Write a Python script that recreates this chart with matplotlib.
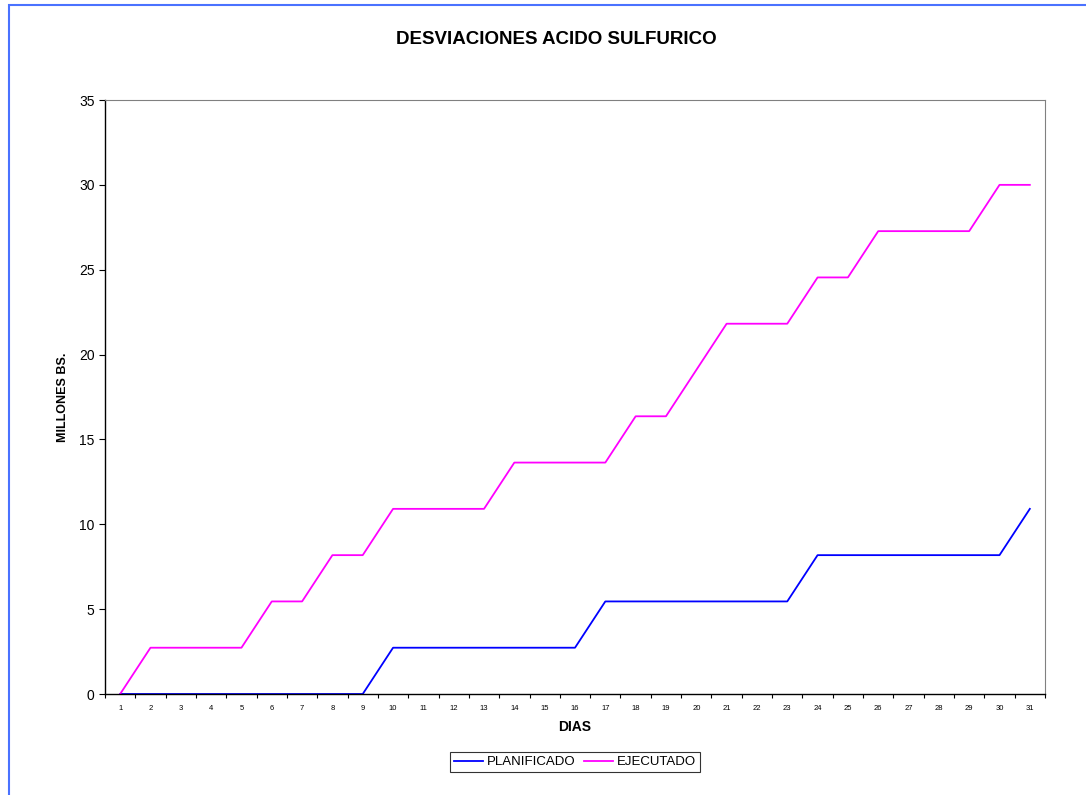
import matplotlib.pyplot as plt
from matplotlib.patches import Rectangle
import numpy as np

plt.rcParams['font.family'] = ['Liberation Sans', 'DejaVu Sans']

dias = list(range(1, 32))
step = 30 / 11
planificado = [0, 0, 0, 0, 0, 0, 0, 0, 0,
               1, 1, 1, 1, 1, 1, 1,
               2, 2, 2, 2, 2, 2, 2,
               3, 3, 3, 3, 3, 3, 3,
               4]
ejecutado = [0, 1, 1, 1, 1, 2, 2, 3, 3,
             4, 4, 4, 4, 5, 5, 5, 5,
             6, 6, 7, 8, 8, 8, 9, 9,
             10, 10, 10, 10, 11, 11]
planificado = np.array(planificado) * step
ejecutado = np.array(ejecutado) * step

fig = plt.figure(figsize=(10.86, 7.95), dpi=100)
W, H = 1086, 795
ax = fig.add_axes([105 / W, 1 - 694 / H, 940 / W, 594 / H])

ax.plot(dias, planificado, color='#0000ff', lw=1.3, label='PLANIFICADO')
ax.plot(dias, ejecutado, color='#ff00ff', lw=1.3, label='EJECUTADO')

ax.set_xlim(0.5, 31.5)
ax.set_ylim(0, 35)
ax.set_yticks(range(0, 36, 5))
ax.set_xticks(dias)
ax.set_xticklabels([str(d) for d in dias], fontsize=5.5)
ax.set_xticks(np.arange(0.5, 32, 1), minor=True)
ax.tick_params(axis='x', which='major', length=0, pad=8)
ax.tick_params(axis='x', which='minor', length=3, direction='out', width=0.8)
ax.tick_params(axis='y', labelsize=10, length=4, direction='out', width=0.8)

for s in ['top', 'right']:
    ax.spines[s].set_color('#808080')
for s in ['left', 'bottom']:
    ax.spines[s].set_color('black')
    ax.spines[s].set_linewidth(1.0)

ax.set_xlabel('DIAS', fontsize=10, fontweight='bold', labelpad=6)
ax.set_ylabel('MILLONES BS.', fontsize=9, fontweight='bold', labelpad=7)
fig.text(556 / W, 1 - 40 / H, 'DESVIACIONES ACIDO SULFURICO', ha='center', va='center',
         fontsize=13.5, fontweight='bold')

leg = ax.legend(loc='center', bbox_to_anchor=(575 / W, 1 - 762 / H),
                bbox_transform=fig.transFigure, ncol=2, frameon=True, fancybox=False,
                fontsize=9.5, handlelength=2.2, handletextpad=0.3, columnspacing=0.6,
                borderpad=0.3, borderaxespad=0)
leg.get_frame().set_edgecolor('black')
leg.get_frame().set_linewidth(0.8)

fig.patches.append(Rectangle((9 / W, -0.05), 1.1, 1 - 5 / H + 0.05, transform=fig.transFigure,
                             fill=False, edgecolor='#4a72ff', lw=1.5))

fig.savefig('out.png', dpi=100)
